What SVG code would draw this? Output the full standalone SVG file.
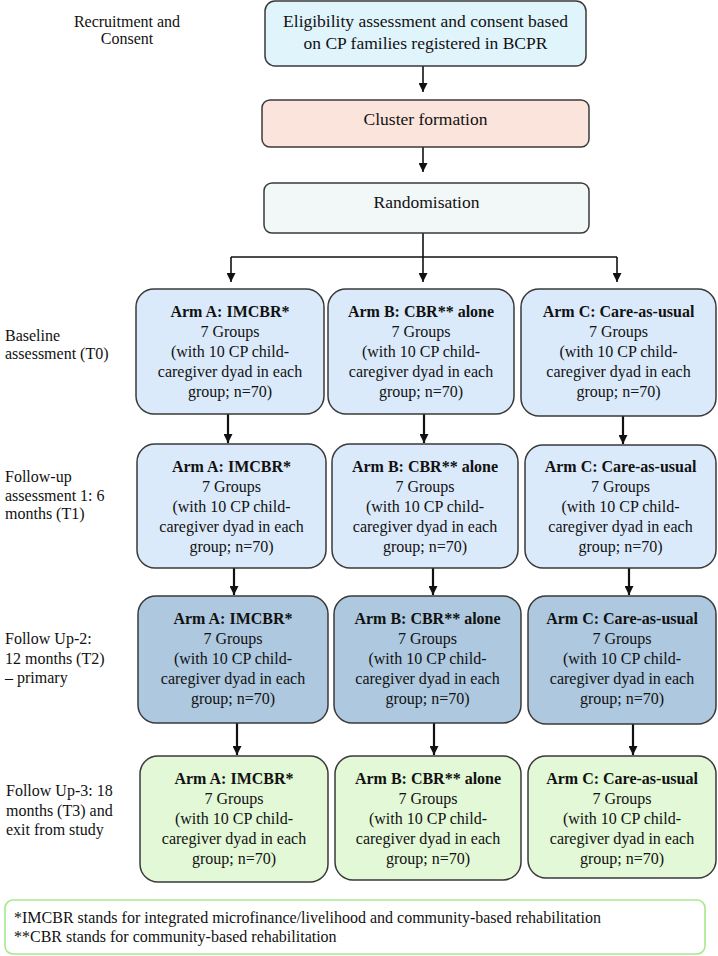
<svg xmlns="http://www.w3.org/2000/svg" width="718" height="956" viewBox="0 0 718 956">
<defs>
<marker id="ah" viewBox="0 0 10 10" refX="10" refY="5" markerWidth="9" markerHeight="9" markerUnits="userSpaceOnUse" orient="auto">
<path d="M0,0 L10,5 L0,10 z" fill="#111"/>
</marker>
<style>
text{fill:#111;}
.big{font-size:17.5px;text-anchor:middle;}
.box{font-size:16px;text-anchor:middle;}
.b{font-weight:bold;}
.lab{font-size:16px;}
.labc{font-size:16px;text-anchor:middle;}
.node{stroke:#3a3a3a;stroke-width:1.5;}
.r1{fill:#dbeafa;}
.r2{fill:#dbeafa;}
.r3{fill:#adc8df;}
.r4{fill:#e2f8d6;}
.con{stroke:#111;fill:none;}
.thin{stroke-width:1.6;}
.thick{stroke-width:2.2;}
</style>
</defs>
<rect width="718" height="956" fill="#ffffff"/>
<g font-family="Liberation Serif, Times New Roman, DejaVu Serif, serif">

<g id="labels">
<text class="labc" x="127" y="27">Recruitment and</text>
<text class="labc" x="127" y="44">Consent</text>
<text class="lab" x="5" y="341">Baseline</text>
<text class="lab" x="5" y="359">assessment (T0)</text>
<text class="lab" x="5" y="482">Follow-up</text>
<text class="lab" x="5" y="501">assessment 1: 6</text>
<text class="lab" x="5" y="519">months (T1)</text>
<text class="lab" x="5" y="644">Follow Up-2:</text>
<text class="lab" x="5" y="664">12 months (T2)</text>
<text class="lab" x="5" y="683">– primary</text>
<text class="lab" x="6" y="796">Follow Up-3: 18</text>
<text class="lab" x="6" y="816">months (T3) and</text>
<text class="lab" x="6" y="835">exit from study</text>
</g>

<g id="connectors">
<line class="con thin" x1="423" y1="66" x2="423" y2="92" marker-end="url(#ah)"/>
<line class="con thin" x1="423" y1="147" x2="423" y2="172" marker-end="url(#ah)"/>
<polyline class="con thin" points="423,233 423,257"/>
<polyline class="con thin" points="231,257 617,257"/>
<line class="con thin" x1="231" y1="257" x2="231" y2="282" marker-end="url(#ah)"/>
<line class="con thin" x1="423" y1="257" x2="423" y2="282" marker-end="url(#ah)"/>
<line class="con thin" x1="617" y1="257" x2="617" y2="282" marker-end="url(#ah)"/>
<line class="con thick" x1="228" y1="414" x2="228" y2="443" marker-end="url(#ah)"/>
<line class="con thick" x1="424" y1="414" x2="424" y2="443" marker-end="url(#ah)"/>
<line class="con thick" x1="623" y1="416" x2="623" y2="444" marker-end="url(#ah)"/>
<line class="con thick" x1="234" y1="568" x2="234" y2="595" marker-end="url(#ah)"/>
<line class="con thick" x1="433" y1="568" x2="433" y2="595" marker-end="url(#ah)"/>
<line class="con thick" x1="629" y1="568" x2="629" y2="595" marker-end="url(#ah)"/>
<line class="con thick" x1="237" y1="723" x2="237" y2="755" marker-end="url(#ah)"/>
<line class="con thick" x1="434" y1="723" x2="434" y2="755" marker-end="url(#ah)"/>
<line class="con thick" x1="633" y1="724" x2="633" y2="755" marker-end="url(#ah)"/>
</g>

<g id="eligibility">
<rect class="node" x="265" y="1" width="321" height="65" rx="10" fill="#e0f4fc"/>
<text class="big" x="425.5" y="27">Eligibility assessment and consent based</text>
<text class="big" x="425.5" y="49">on CP families registered in BCPR</text>
</g>
<g id="cluster">
<rect class="node" x="262" y="100" width="327" height="47" rx="8" fill="#fbe4dc"/>
<text class="big" x="425.5" y="125">Cluster formation</text>
</g>
<g id="randomisation">
<rect class="node" x="264" y="183" width="325" height="50" rx="8" fill="#f2f7f8"/>
<text class="big" x="426.5" y="208">Randomisation</text>
</g>

<g id="t0-a">
<rect class="node r1" x="136" y="289" width="188" height="125" rx="18"/>
<text class="box b" x="230" y="317">Arm A: IMCBR*</text>
<text class="box" x="230" y="337">7 Groups</text>
<text class="box" x="230" y="357">(with 10 CP child-</text>
<text class="box" x="230" y="377">caregiver dyad in each</text>
<text class="box" x="230" y="397">group; n=70)</text>
</g>
<g id="t0-b">
<rect class="node r1" x="328" y="289" width="186" height="125" rx="18"/>
<text class="box b" x="421" y="317">Arm B: CBR** alone</text>
<text class="box" x="421" y="337">7 Groups</text>
<text class="box" x="421" y="357">(with 10 CP child-</text>
<text class="box" x="421" y="377">caregiver dyad in each</text>
<text class="box" x="421" y="397">group; n=70)</text>
</g>
<g id="t0-c">
<rect class="node r1" x="521" y="289" width="195" height="127" rx="18"/>
<text class="box b" x="618.5" y="317">Arm C: Care-as-usual</text>
<text class="box" x="618.5" y="337">7 Groups</text>
<text class="box" x="618.5" y="357">(with 10 CP child-</text>
<text class="box" x="618.5" y="377">caregiver dyad in each</text>
<text class="box" x="618.5" y="397">group; n=70)</text>
</g>

<g id="t1-a">
<rect class="node r2" x="137" y="444" width="189" height="124" rx="18"/>
<text class="box b" x="231.5" y="472">Arm A: IMCBR*</text>
<text class="box" x="231.5" y="492">7 Groups</text>
<text class="box" x="231.5" y="512">(with 10 CP child-</text>
<text class="box" x="231.5" y="532">caregiver dyad in each</text>
<text class="box" x="231.5" y="552">group; n=70)</text>
</g>
<g id="t1-b">
<rect class="node r2" x="332" y="444" width="186" height="124" rx="18"/>
<text class="box b" x="425" y="472">Arm B: CBR** alone</text>
<text class="box" x="425" y="492">7 Groups</text>
<text class="box" x="425" y="512">(with 10 CP child-</text>
<text class="box" x="425" y="532">caregiver dyad in each</text>
<text class="box" x="425" y="552">group; n=70)</text>
</g>
<g id="t1-c">
<rect class="node r2" x="525" y="445" width="191" height="123" rx="18"/>
<text class="box b" x="620.5" y="472">Arm C: Care-as-usual</text>
<text class="box" x="620.5" y="492">7 Groups</text>
<text class="box" x="620.5" y="512">(with 10 CP child-</text>
<text class="box" x="620.5" y="532">caregiver dyad in each</text>
<text class="box" x="620.5" y="552">group; n=70)</text>
</g>

<g id="t2-a">
<rect class="node r3" x="138" y="596" width="190" height="127" rx="18"/>
<text class="box b" x="233" y="624">Arm A: IMCBR*</text>
<text class="box" x="233" y="644">7 Groups</text>
<text class="box" x="233" y="664">(with 10 CP child-</text>
<text class="box" x="233" y="684">caregiver dyad in each</text>
<text class="box" x="233" y="704">group; n=70)</text>
</g>
<g id="t2-b">
<rect class="node r3" x="334" y="596" width="187" height="127" rx="18"/>
<text class="box b" x="427.5" y="624">Arm B: CBR** alone</text>
<text class="box" x="427.5" y="644">7 Groups</text>
<text class="box" x="427.5" y="664">(with 10 CP child-</text>
<text class="box" x="427.5" y="684">caregiver dyad in each</text>
<text class="box" x="427.5" y="704">group; n=70)</text>
</g>
<g id="t2-c">
<rect class="node r3" x="528" y="596" width="188" height="128" rx="18"/>
<text class="box b" x="622" y="624">Arm C: Care-as-usual</text>
<text class="box" x="622" y="644">7 Groups</text>
<text class="box" x="622" y="664">(with 10 CP child-</text>
<text class="box" x="622" y="684">caregiver dyad in each</text>
<text class="box" x="622" y="704">group; n=70)</text>
</g>

<g id="t3-a">
<rect class="node r4" x="140" y="756" width="188" height="126" rx="18"/>
<text class="box b" x="234" y="784">Arm A: IMCBR*</text>
<text class="box" x="234" y="804">7 Groups</text>
<text class="box" x="234" y="824">(with 10 CP child-</text>
<text class="box" x="234" y="844">caregiver dyad in each</text>
<text class="box" x="234" y="864">group; n=70)</text>
</g>
<g id="t3-b">
<rect class="node r4" x="335" y="756" width="186" height="124" rx="18"/>
<text class="box b" x="428" y="784">Arm B: CBR** alone</text>
<text class="box" x="428" y="804">7 Groups</text>
<text class="box" x="428" y="824">(with 10 CP child-</text>
<text class="box" x="428" y="844">caregiver dyad in each</text>
<text class="box" x="428" y="864">group; n=70)</text>
</g>
<g id="t3-c">
<rect class="node r4" x="528" y="756" width="188" height="122" rx="18"/>
<text class="box b" x="622" y="784">Arm C: Care-as-usual</text>
<text class="box" x="622" y="804">7 Groups</text>
<text class="box" x="622" y="824">(with 10 CP child-</text>
<text class="box" x="622" y="844">caregiver dyad in each</text>
<text class="box" x="622" y="864">group; n=70)</text>
</g>

<g id="footnote">
<rect x="5" y="900" width="700" height="54" rx="8" fill="#ffffff" stroke="#a6e88e" stroke-width="1.6"/>
<text class="lab" x="14" y="923">*IMCBR stands for integrated microfinance/livelihood and community-based rehabilitation</text>
<text class="lab" x="14" y="942">**CBR stands for community-based rehabilitation</text>
</g>
</g>
</svg>
